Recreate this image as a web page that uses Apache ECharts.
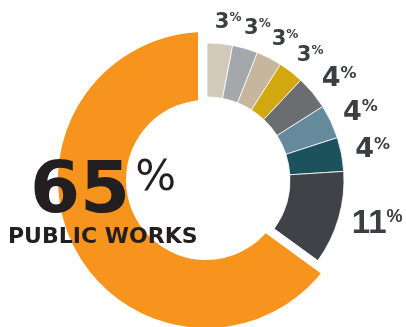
<!DOCTYPE html>
<html>
<head>
<meta charset="utf-8">
<script src="https://cdn.jsdelivr.net/npm/echarts@6/dist/echarts.min.js"></script>
<style>
html,body{margin:0;padding:0;background:#fff;}
#chart{width:406px;height:327px;}
</style>
</head>
<body>
<div id="chart"></div>
<script>
// ---- data (clockwise from 12 o'clock) ----
const categories = ['Category 1', 'Category 2', 'Category 3', 'Category 4', 'Category 5', 'Category 6', 'Category 7', 'Category 8', 'Public Works'];
const values = [3, 3, 3, 3, 4, 4, 4, 11, 65];
const highlightName = 'Public Works';
const highlightValue = 65;
const highlightLabel = 'PUBLIC WORKS';

// ---- styling ----
const palette = ['#d3c9b8', '#a4a7ac', '#c5b69d', '#d1a80f', '#6c6d71', '#658a9b', '#1b525b', '#414247', '#f7941e'];
const labelColor = '#3d3e43';
const FONT = 'DejaVu Sans';
const FONT_L = 'Liberation Sans';

function sizeClass(v) {
  if (v >= 10) return 'l';
  if (v >= 4) return 'm';
  return 's';
}

const rich = {
  ns: {fontFamily: FONT, fontWeight: 'bold', fontSize: 21, lineHeight: 21, color: labelColor},
  ps: {fontFamily: FONT, fontWeight: 'bold', fontSize: 12, lineHeight: 12, color: labelColor, verticalAlign: 'top'},
  nm: {fontFamily: FONT, fontWeight: 'bold', fontSize: 27, lineHeight: 27, color: labelColor},
  pm: {fontFamily: FONT, fontWeight: 'bold', fontSize: 16, lineHeight: 16, color: labelColor, verticalAlign: 'top'},
  nl: {fontFamily: FONT_L, fontWeight: 'bold', fontSize: 33, lineHeight: 33, color: labelColor},
  pl: {fontFamily: FONT_L, fontWeight: 'bold', fontSize: 18, lineHeight: 18, color: labelColor, verticalAlign: 'top'}
};

const ringData = categories.map((name, i) => {
  const isHi = name === highlightName;
  return {
    name: name,
    value: values[i],
    itemStyle: isHi ? {color: 'transparent', borderWidth: 0} : {color: palette[i], borderColor: '#ffffff', borderWidth: 0.8},
    label: isHi ? {show: false} : {show: true}
  };
});

const hiData = categories.map((name, i) => {
  const isHi = name === highlightName;
  return {
    name: name,
    value: values[i],
    itemStyle: isHi ? {color: palette[i], borderColor: '#ffffff', borderWidth: 16, borderJoin: 'miter'} : {color: 'transparent', borderWidth: 0},
    label: {show: false}
  };
});

const chart = echarts.init(document.getElementById('chart'), null, {renderer: 'canvas'});
chart.setOption({
  animation: false,
  backgroundColor: '#ffffff',
  series: [
    {
      type: 'pie',
      z: 1,
      center: [206, 180],
      radius: [72, 156],
      startAngle: 90,
      clockwise: true,
      silent: true,
      avoidLabelOverlap: false,
      label: {show: false},
      labelLine: {show: false},
      emphasis: {disabled: true},
      data: hiData
    },
    {
      type: 'pie',
      z: 2,
      center: [207, 180],
      radius: [83, 137],
      startAngle: 90,
      clockwise: true,
      silent: true,
      avoidLabelOverlap: false,
      labelLayout: {hideOverlap: false},
      emphasis: {disabled: true},
      label: {
        show: true,
        position: 'outside',
        distanceToLabelLine: 0,
        overflow: 'none',
        formatter: function (p) {
          const c = sizeClass(p.value);
          return '{n' + c + '|' + p.value + '}{p' + c + '|%}';
        },
        rich: rich
      },
      labelLine: {show: false, length: 21, length2: -7},
      data: ringData
    }
  ],
  graphic: [
    {
      type: 'text',
      z: 100,
      left: 30,
      top: 157,
      style: {
        text: '{a|' + highlightValue + '}{b|%}',
        rich: {
          a: {fontFamily: FONT, fontWeight: 'bold', fontSize: 72, lineHeight: 72, fill: '#231f20', color: '#231f20'},
          b: {fontFamily: FONT, fontWeight: 'normal', fontSize: 43, lineHeight: 43, fill: '#231f20', color: '#231f20', verticalAlign: 'top', padding: [0, 0, 0, 5]}
        }
      }
    },
    {
      type: 'text',
      z: 100,
      left: 8,
      top: 226,
      style: {
        text: highlightLabel,
        font: 'bold 22px "DejaVu Sans"',
        fill: '#231f20'
      }
    }
  ]
});
</script>
</body>
</html>
